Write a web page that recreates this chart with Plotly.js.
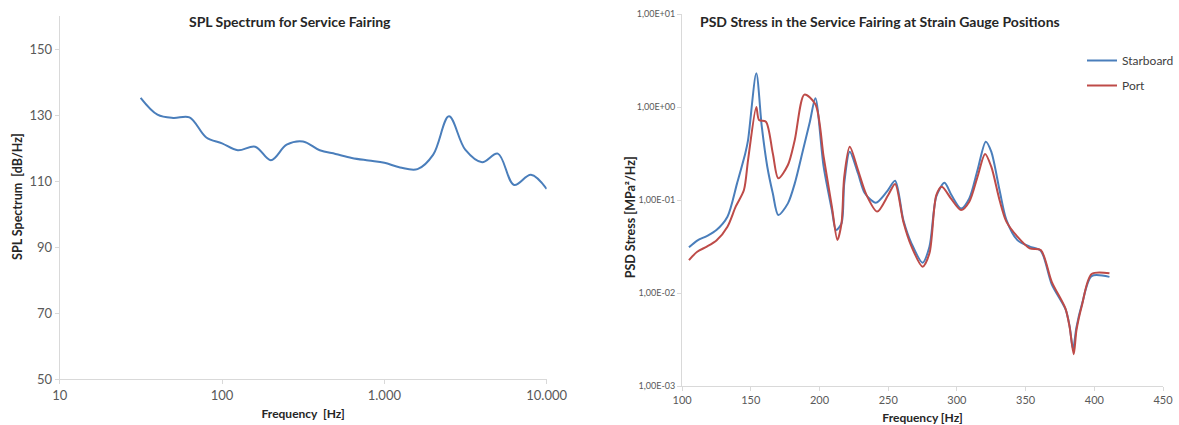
<!DOCTYPE html>
<html>
<head>
<meta charset="utf-8">
<script src="https://cdn.plot.ly/plotly-3.0.1.min.js"></script>
<style>
html,body{margin:0;padding:0;background:#fff;}
#chart{width:1179px;height:425px;}
</style>
</head>
<body>
<div id="chart"></div>
<script>
// ---- Left chart: SPL spectrum (1/3 octave bands) ----
const splFreq = [31.5,40,50,63,80,100,125,160,200,250,315,400,500,630,800,1000,1250,1600,2000,2500,3150,4000,5000,6300,8000,10000];
const splValue = [135.2,130.1,129.1,129.3,123.2,121.4,119.3,120.4,116.3,121.0,122.0,119.3,118.2,117.0,116.2,115.5,114.1,113.6,118.0,129.6,119.5,115.7,118.3,108.8,111.9,107.6];
const splXTickVals = [10,100,1000,10000];
const splXTickText = ["10","100","1.000","10.000"];

// ---- Right chart: PSD stress ----
const starFreq = [105,111,118,125,133,140,146,148,154,158,162,166,170,177,182,188,193,197,203,209,212,216,218,222,228,233,241,249,255,261,267,275,280,285,291,296,303,309,315,321,325,331,336,344,353,361,369,379,382,384.5,387,391,398,411];
const starPsd = [0.031,0.0366,0.041,0.0475,0.066,0.151,0.318,0.44,2.3,0.614,0.228,0.118,0.069,0.092,0.151,0.345,0.695,1.24,0.228,0.078,0.0475,0.056,0.151,0.331,0.194,0.118,0.0935,0.123,0.161,0.061,0.034,0.0212,0.0315,0.109,0.153,0.113,0.081,0.104,0.21,0.424,0.331,0.128,0.061,0.037,0.0315,0.0285,0.0124,0.0067,0.0044,0.0025,0.0043,0.0076,0.0152,0.0149];
const portFreq = [105,111,118,125,133,139,145,148,154,156,161,166,170,177,182,189,197,203,209,213,216,218,222,228,234,242,250,255,261,267,275,280,285,289,296,303,309,315,320.5,325,331,336,344,353,361,369,379,382,385,387,391,398,411];
const portPsd = [0.0226,0.0278,0.0315,0.0366,0.0516,0.0847,0.128,0.269,1.0,0.724,0.695,0.318,0.171,0.238,0.442,1.36,1.07,0.292,0.0847,0.0372,0.056,0.178,0.374,0.21,0.115,0.075,0.113,0.149,0.0585,0.0315,0.0192,0.0267,0.113,0.139,0.102,0.078,0.096,0.178,0.313,0.228,0.1,0.0585,0.0404,0.0302,0.029,0.0132,0.0068,0.0043,0.0022,0.004,0.0074,0.016,0.0163];
const psdYTickVals = [0.001,0.01,0.1,1,10];
const psdYTickText = ["1,00E-03","1,00E-02","1,00E-01","1,00E+00","1,00E+01"];
const psdXTickVals = [100,150,200,250,300,350,400,450];

const BLUE = "#4A7EBB", RED = "#BE4B48";
const FONT = "Lato, 'Open Sans', sans-serif";
const W = 1179, H = 425;

const traces = [
  {x: splFreq, y: splValue, xaxis:"x", yaxis:"y", mode:"lines", showlegend:false,
   line:{color:BLUE, width:2, shape:"spline", smoothing:1}},
  {x: starFreq, y: starPsd, xaxis:"x2", yaxis:"y2", mode:"lines", name:"Starboard", legendgroup:"a",
   line:{color:BLUE, width:2, shape:"spline", smoothing:0.8}},
  {x: portFreq, y: portPsd, xaxis:"x2", yaxis:"y2", mode:"lines", name:"Port", legendgroup:"b",
   line:{color:RED, width:2, shape:"spline", smoothing:0.8}}
];

const axisCommon = {showgrid:false, zeroline:false, showline:true, linecolor:"#D9D9D9", linewidth:1,
  ticks:"outside", ticklen:4, tickcolor:"#D9D9D9", fixedrange:true};

const layout = {
  width: W, height: H,
  margin:{l:0,r:0,t:0,b:0},
  paper_bgcolor:"#fff", plot_bgcolor:"#fff",
  font:{family:FONT, color:"#595959"},
  showlegend:true,
  legend:{x:1087/W, y:1-46/H, xanchor:"left", yanchor:"top", bgcolor:"rgba(0,0,0,0)",
    font:{size:12, color:"#404040", family:FONT}, itemwidth:30, tracegroupgap:6, traceorder:"grouped"},
  xaxis: Object.assign({}, axisCommon, {
    domain:[60/W, 549/W], anchor:"y", type:"log", range:[1,4],
    tickmode:"array", tickvals:splXTickVals, ticktext:splXTickText,
    tickfont:{size:13, color:"#595959"},
    title:{text:"Frequency  [Hz]", font:{size:12, color:"#262626", family:FONT, weight:"bold"}, standoff:8}
  }),
  yaxis: Object.assign({}, axisCommon, {
    domain:[1-379/H, 1-16/H], anchor:"x", range:[50,160],
    tickmode:"linear", tick0:50, dtick:20,
    tickfont:{size:13, color:"#595959"}
  }),
  xaxis2: Object.assign({}, axisCommon, {
    domain:[685/W, 1168/W], anchor:"y2", range:[100,450],
    tickmode:"array", tickvals:psdXTickVals,
    tickfont:{size:11, color:"#595959"},
    title:{text:"Frequency [Hz]", font:{size:12, color:"#262626", family:FONT, weight:"bold"}, standoff:8}
  }),
  yaxis2: Object.assign({}, axisCommon, {
    domain:[1-386/H, 1-14/H], anchor:"x2", type:"log", range:[-3,1],
    tickmode:"array", tickvals:psdYTickVals, ticktext:psdYTickText,
    tickfont:{size:9, color:"#595959"}
  }),
  annotations:[
    {text:"<b>SPL Spectrum for Service Fairing</b>", xref:"paper", yref:"paper", x:291/W, y:1-22/H,
     xanchor:"center", yanchor:"middle", showarrow:false, font:{size:14, color:"#262626", family:FONT}},
    {text:"<b>PSD Stress in the Service Fairing at Strain Gauge Positions</b>", xref:"paper", yref:"paper", x:884/W, y:1-22/H,
     xanchor:"center", yanchor:"middle", showarrow:false, font:{size:14, color:"#262626", family:FONT}},
    {text:"<b>SPL Spectrum  [dB/Hz]</b>", xref:"paper", yref:"paper", x:17/W, y:1-196/H, textangle:-90,
     xanchor:"center", yanchor:"middle", showarrow:false, font:{size:12.5, color:"#262626", family:FONT}},
    {text:"<b>PSD Stress [MPa²/Hz]</b>", xref:"paper", yref:"paper", x:633/W, y:1-217/H, textangle:-90,
     xanchor:"center", yanchor:"middle", showarrow:false, font:{size:12.5, color:"#262626", family:FONT}}
  ]
};

Plotly.newPlot("chart", traces, layout, {displayModeBar:false, staticPlot:true});
</script>
</body>
</html>
